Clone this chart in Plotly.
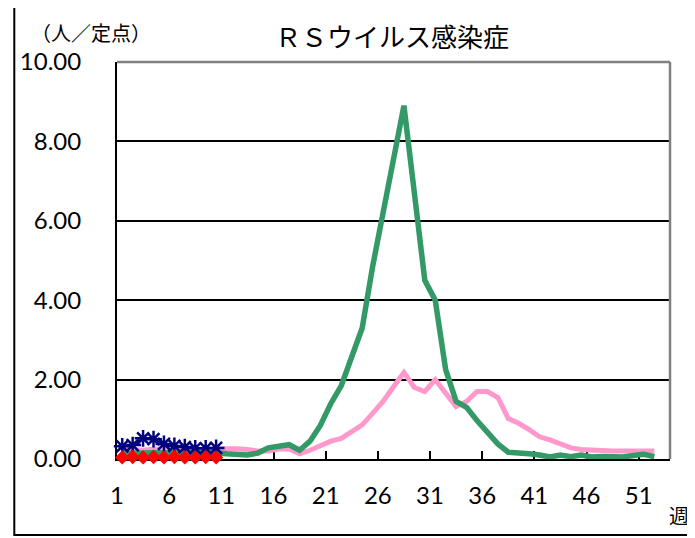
import plotly.graph_objects as go

weeks = list(range(1, 53))
weeks_now = list(range(1, 11))

green_vals = [0.15, 0.14, 0.15, 0.16, 0.15, 0.14, 0.15, 0.16, 0.17, 0.16,
              0.13, 0.10, 0.10, 0.15, 0.28, 0.32, 0.36, 0.22, 0.45, 0.85,
              1.40, 1.85, 2.55, 3.30, 4.85, 6.20, 7.50, 8.90, 6.70, 4.50,
              4.00, 2.25, 1.45, 1.30, 0.97, 0.68, 0.38, 0.17, 0.16, 0.13,
              0.10, 0.05, 0.10, 0.06, 0.10, 0.05, 0.06, 0.05, 0.05, 0.09,
              0.12, 0.06]

pink_vals = [0.25, 0.24, 0.22, 0.25, 0.26, 0.24, 0.22, 0.22, 0.25, 0.26,
             0.27, 0.26, 0.24, 0.20, 0.20, 0.25, 0.25, 0.13, 0.22, 0.35,
             0.45, 0.52, 0.68, 0.86, 1.15, 1.45, 1.82, 2.18, 1.80, 1.70,
             2.00, 1.65, 1.32, 1.45, 1.70, 1.70, 1.55, 1.02, 0.90, 0.74,
             0.56, 0.48, 0.38, 0.28, 0.24, 0.22, 0.20, 0.20, 0.20, 0.20,
             0.20, 0.20]

blue_vals = [0.32, 0.35, 0.52, 0.50, 0.38, 0.33, 0.30, 0.27, 0.27, 0.28]
red_vals = [0.04, 0.05, 0.04, 0.05, 0.04, 0.05, 0.04, 0.04, 0.05, 0.04]

tick_weeks = [1, 6, 11, 16, 21, 26, 31, 36, 41, 46, 51]
y_ticks = [0, 2, 4, 6, 8, 10]

title_text = "ＲＳウイルス感染症"
unit_text = "（人／定点）"
week_text = "週"

# page is drawn with an 8px body margin
OFF = 8
W, H = 695 - OFF, 538 - OFF
L, R, T, B = 110, 670, 62, 459   # plot area in page pixels

fig = go.Figure()
fig.add_trace(go.Scatter(x=weeks, y=pink_vals, mode="lines",
                         line=dict(color="#FF99CC", width=5), hoverinfo="skip"))
fig.add_trace(go.Scatter(x=weeks, y=green_vals, mode="lines",
                         line=dict(color="#339966", width=5.5), hoverinfo="skip"))
fig.add_trace(go.Scatter(x=weeks_now, y=blue_vals, mode="lines+markers",
                         line=dict(color="#000080", width=2), cliponaxis=False,
                         marker=dict(symbol="asterisk-open", size=14,
                                     line=dict(color="#000080", width=2.5)),
                         hoverinfo="skip"))
fig.add_trace(go.Scatter(x=weeks_now, y=red_vals, mode="lines+markers",
                         line=dict(color="#FF0000", width=2), cliponaxis=False,
                         marker=dict(symbol="diamond", size=11, color="#FF0000",
                                     line=dict(width=0)),
                         hoverinfo="skip"))

def px(x):
    return (x - L) / (R - L)

def py(y):
    return (B - y) / (B - T)

fig.update_layout(
    width=W, height=H,
    margin=dict(l=L - OFF, r=W - (R - OFF), t=T - OFF, b=H - (B - OFF), pad=0),
    paper_bgcolor="white", plot_bgcolor="white",
    showlegend=False,
    font=dict(family="Lato, sans-serif", color="black"),
    xaxis=dict(range=[0.5, 53.5], tickmode="array",
               tickvals=[w - 0.5 for w in tick_weeks],
               ticktext=[str(w) for w in tick_weeks],
               ticks="inside", ticklen=8, tickwidth=2, tickcolor="black",
               showline=True, linecolor="black", linewidth=2,
               showgrid=False, zeroline=False, layer="below traces",
               tickfont=dict(family="Lato, sans-serif", size=24, color="black"),
               ticklabelstandoff=14),
    yaxis=dict(range=[0, 10], tickmode="array", tickvals=y_ticks,
               ticktext=["%.2f" % v for v in y_ticks],
               ticks="", showline=True, linecolor="black", linewidth=2,
               showgrid=True, gridcolor="black", gridwidth=1.5,
               zeroline=False, layer="below traces",
               tickfont=dict(family="Lato, sans-serif", size=24, color="black"),
               ticklabelstandoff=29),
    shapes=[
        dict(type="line", xref="paper", yref="paper", x0=0, x1=1, y0=1, y1=1,
             line=dict(color="#808080", width=2.5)),
        dict(type="line", xref="paper", yref="paper", x0=1, x1=1, y0=0, y1=1,
             line=dict(color="#808080", width=2.5)),
        dict(type="rect", xref="paper", yref="paper",
             x0=px(6), x1=px(700), y0=py(535), y1=py(5),
             line=dict(color="black", width=2), fillcolor="rgba(0,0,0,0)"),
    ],
    annotations=[
        dict(text=title_text, xref="paper", yref="paper", x=px(388), y=py(36),
             xanchor="center", yanchor="middle", showarrow=False,
             font=dict(family="Noto Sans CJK JP", size=26, color="black")),
        dict(text=unit_text, xref="paper", yref="paper", x=px(21), y=py(33),
             xanchor="left", yanchor="middle", showarrow=False,
             font=dict(family="Noto Sans CJK JP", size=20, color="black")),
        dict(text=week_text, xref="paper", yref="paper", x=px(679), y=py(515),
             xanchor="center", yanchor="middle", showarrow=False,
             font=dict(family="Noto Sans CJK JP", size=20, color="black")),
    ],
)

fig.write_html("out.html")
